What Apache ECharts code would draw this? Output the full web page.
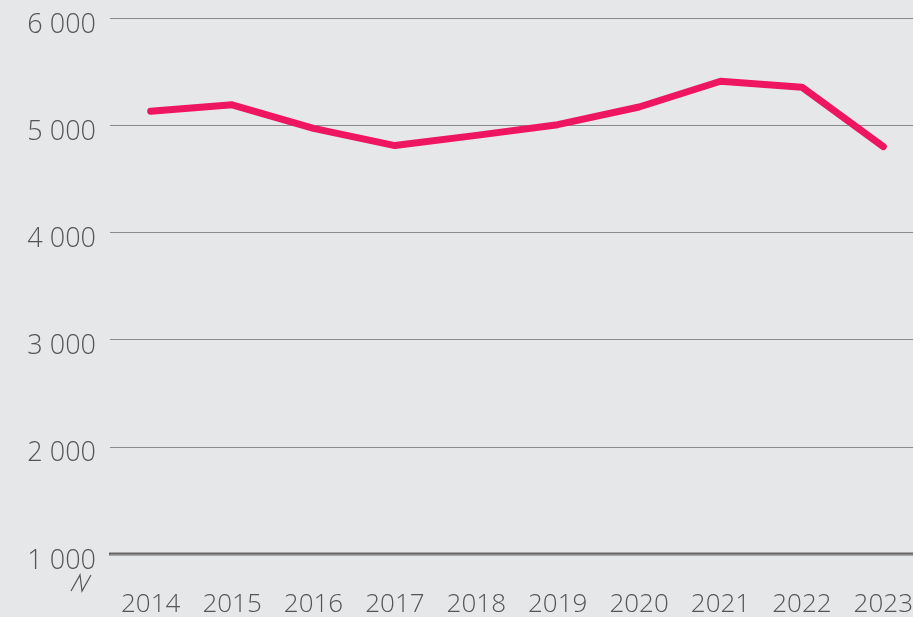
<!DOCTYPE html>
<html style="height: 100%">
    <head>
        <title>Line chart</title>
        <meta charset="utf-8">
    </head>
    <body style="height: 100%; margin: 0; background: #e6e7e8">
        <div id="container" style="width: 913px; height: 617px"></div>

        <script type="text/javascript" src="https://cdn.jsdelivr.net/npm/echarts@6.0.0/dist/echarts.min.js"></script>
        <script type="text/javascript">
            var years = ['2014', '2015', '2016', '2017', '2018', '2019', '2020', '2021', '2022', '2023'];
            var values = [5130, 5190, 4970, 4810, 4905, 5005, 5170, 5410, 5355, 4800];
            var yTicks = [1000, 2000, 3000, 4000, 5000, 6000];

            var dom = document.getElementById("container");
            var myChart = echarts.init(dom);

            var labelFont = {
                color: '#555',
                fontFamily: 'Open Sans',
                fontWeight: 300,
                fontSize: 26
            };

            var option = {
                backgroundColor: '#e6e7e8',
                animation: false,
                grid: {
                    left: 110,
                    width: 814,
                    top: 18,
                    height: 536,
                    containLabel: false,
                    outerBoundsMode: 'none'
                },
                xAxis: {
                    type: 'category',
                    data: years,
                    boundaryGap: true,
                    axisLine: { show: false },
                    axisTick: { show: false },
                    axisLabel: Object.assign({ margin: 38 }, labelFont)
                },
                yAxis: {
                    type: 'value',
                    min: yTicks[0],
                    max: yTicks[yTicks.length - 1],
                    interval: 1000,
                    axisLine: { show: false },
                    axisTick: { show: false },
                    axisLabel: Object.assign({
                        margin: 14,
                        verticalAlign: 'top',
                        lineHeight: 14,
                        formatter: function (v) {
                            return String(v).replace(/\B(?=(\d{3})+(?!\d))/g, ' ');
                        }
                    }, labelFont, { fontSize: 27 }),
                    splitLine: {
                        lineStyle: {
                            color: '#8a8a8a',
                            width: 1
                        }
                    }
                },
                graphic: [
                    {
                        type: 'line',
                        shape: { x1: 109, y1: 554, x2: 913, y2: 554 },
                        style: { stroke: '#666', lineWidth: 3 }
                    },
                    {
                        type: 'polyline',
                        shape: { points: [[71, 591], [80, 575], [82, 591], [91, 575]] },
                        style: { stroke: '#555', lineWidth: 1.2, fill: null }
                    }
                ],
                series: [{
                    type: 'line',
                    data: values,
                    symbol: 'none',
                    lineStyle: {
                        color: '#ee1661',
                        width: 7,
                        cap: 'round',
                        join: 'round'
                    }
                }]
            };

            myChart.setOption(option);
        </script>
    </body>
</html>
